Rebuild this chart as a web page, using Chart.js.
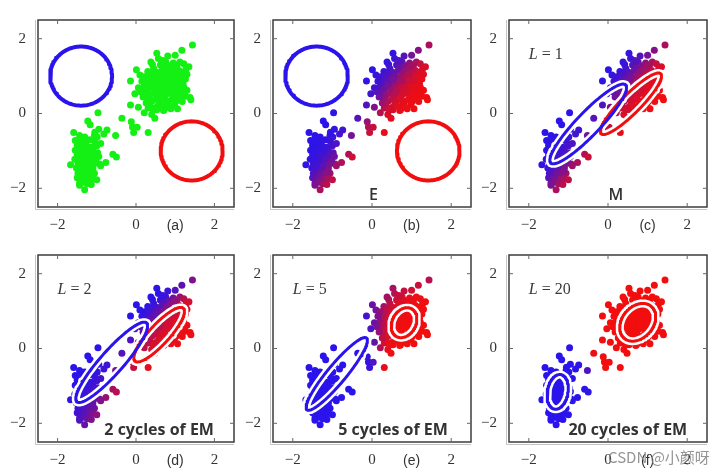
<!DOCTYPE html>
<html><head><meta charset="utf-8">
<script src="https://cdn.jsdelivr.net/npm/chart.js@4.4.0/dist/chart.umd.min.js"></script>
<style>
html,body{margin:0;padding:0;background:#fff;width:725px;height:475px;overflow:hidden;position:relative;}
canvas{position:absolute;}
</style></head><body>
<script>
// ---------- data ----------
const longX = [1.44,1.17,1.00,0.81,0.53,0.57,0.42,0.76,0.01,0.10,
-0.14,0.20,-0.03,-0.14,0.06,0.21,0.40,0.48,0.31,0.53,
0.72,0.89,1.06,1.18,1.38,1.40,1.35,0.62,0.85,0.95,
1.05,1.12,1.22,1.28,0.70,0.45,0.30,0.52,0.66,0.80,
0.90,1.00,1.10,1.20,0.38,0.75,0.22,0.35,0.48,0.58,
0.68,0.78,0.88,0.98,1.08,1.18,1.26,0.62,0.85,0.92,
0.28,0.40,0.50,0.60,0.70,0.80,0.90,1.00,1.10,1.20,
0.55,0.75,0.95,1.05,0.45,0.20,0.32,0.42,0.52,0.62,
0.72,0.82,0.92,1.02,1.12,1.22,1.30,0.67,0.87,0.48,
0.26,0.36,0.46,0.56,0.66,0.76,0.86,0.96,1.06,1.16,
1.26,0.71,0.91,1.01,0.30,0.42,0.52,0.62,0.72,0.82,
0.92,1.02,1.12,0.58,0.78,0.98,0.36,0.50,0.64,0.84,
0.44,0.70,0.26,0.06,0.12,0.15,0.18,1.30,1.24,0.98,
0.38,0.68,0.60,0.80,0.74,0.94,0.54,1.14];
const longY = [1.83,1.69,1.56,1.54,1.61,1.47,1.31,1.38,1.17,1.03,
0.87,0.84,0.53,0.23,0.17,0.02,-0.03,-0.13,0.15,0.10,
0.10,0.13,0.13,0.32,0.43,0.37,1.25,1.30,1.28,1.35,
1.30,1.38,1.33,1.20,1.22,1.20,1.12,1.10,1.15,1.12,
1.18,1.10,1.15,1.10,1.05,1.05,0.98,0.92,0.98,1.00,
0.94,0.98,1.00,0.95,1.00,0.96,0.92,0.90,0.90,1.05,
0.82,0.80,0.86,0.78,0.84,0.80,0.84,0.78,0.84,0.80,
0.75,0.76,0.74,0.88,0.90,0.70,0.66,0.72,0.64,0.70,
0.66,0.70,0.64,0.70,0.66,0.70,0.62,0.60,0.60,0.60,
0.55,0.50,0.54,0.48,0.54,0.50,0.54,0.48,0.55,0.50,
0.46,0.45,0.58,0.44,0.38,0.34,0.40,0.34,0.38,0.32,
0.38,0.33,0.40,0.26,0.25,0.24,0.20,0.16,0.20,0.17,
0.10,0.08,0.28,0.69,0.58,0.86,0.44,1.05,0.58,1.25,
1.38,1.42,0.58,0.62,0.88,0.90,0.92,0.74];
const shortX = [-0.97,-1.23,-1.17,-0.95,-0.74,-1.59,-1.44,-1.31,-1.06,-0.99,
-0.52,-0.59,-0.50,-0.77,-1.67,-0.93,-1.55,-1.42,-1.30,-1.18,
-1.05,-1.50,-1.38,-1.26,-1.14,-1.00,-0.90,-1.55,-1.45,-1.34,
-1.22,-1.10,-0.98,-1.50,-1.40,-1.30,-1.20,-1.08,-0.95,-1.56,
-1.44,-1.34,-1.24,-1.14,-1.02,-1.48,-1.38,-1.28,-1.18,-1.06,
-0.90,-1.52,-1.42,-1.32,-1.22,-1.10,-1.48,-1.38,-1.28,-1.18,
-1.06,-1.50,-1.40,-1.30,-1.20,-1.10,-1.44,-1.34,-1.24,-1.14,
-1.31,-1.44,-1.00,-1.36,-1.26,-1.46,-1.20,-1.40,-1.12,-1.42,
-1.05,-0.82];
const shortY = [0.02,-0.20,-0.30,-0.42,-0.44,-0.51,-0.59,-0.63,-0.59,-0.63,
-0.59,-1.09,-1.16,-1.31,-1.37,-1.35,-0.72,-0.70,-0.74,-0.70,
-0.75,-0.85,-0.88,-0.86,-0.90,-0.86,-0.80,-0.98,-1.00,-0.97,
-1.02,-0.98,-1.05,-1.10,-1.12,-1.08,-1.14,-1.10,-1.15,-1.22,
-1.24,-1.20,-1.26,-1.22,-1.28,-1.34,-1.36,-1.32,-1.38,-1.34,
-1.40,-1.46,-1.50,-1.45,-1.50,-1.46,-1.60,-1.62,-1.58,-1.64,
-1.60,-1.72,-1.76,-1.70,-1.76,-1.74,-1.86,-1.84,-1.88,-1.90,
-2.04,-1.92,-1.77,-1.28,-1.42,-1.18,-0.96,-0.80,-1.55,-1.40,
-0.50,-0.55];
const bridgeX = [-0.36,-0.12,-0.09,0.03,-0.06,0.31];
const bridgeY = [-0.13,-0.22,-0.36,-0.37,-0.51,-0.51];

const tickValues = [-2, 0, 2];
const tickLabels = ['\u22122', '0', '2'];
const panelLetters = ['(a)','(b)','(c)','(d)','(e)','(f)'];
const cycleLabels = [null, null, '1', '2', '5', '20'];
const captions = [null, 'E', 'M', '2 cycles of EM', '5 cycles of EM', '20 cycles of EM'];
const captionX = [null, 0.04, 0.2, 0.59, 0.53, 0.5];

// Gaussian components per panel: [centre x, centre y, semi-axis a, semi-axis b, angle deg, weight]
const blueComps = [[-1.40,1.00,0.79,0.79,0,0.5],[-1.40,1.00,0.79,0.79,0,0.5],[-0.50,-0.28,1.41,0.30,48,0.5],
                   [-0.62,-0.37,1.38,0.30,50,0.5],[-0.89,-0.68,1.22,0.24,52,0.45],[-1.27,-1.16,0.47,0.26,80,0.36]];
const redComps  = [[1.42,-1.00,0.79,0.79,0,0.5],[1.42,-1.00,0.79,0.79,0,0.5],[0.58,0.26,1.10,0.25,47,0.5],
                   [0.59,0.37,0.94,0.26,49,0.5],[0.81,0.69,0.42,0.30,65,0.55],[0.75,0.70,0.55,0.40,55,0.64]];
// which components give the responsibilities used to colour each panel
const colourSource = [null, 0, 0, 2, 4, 5];

// ---------- layout ----------
const boxes = [[38,17,196,190],[273,17,198,190],[509,17,198,190],
               [38,252,196,190],[273,252,198,190],[509,252,198,190]];
const BLUE = [42,20,235], RED = [242,14,14];

const pts = [];
longX.forEach((x,i)=>pts.push({x, y:longY[i]}));
shortX.forEach((x,i)=>pts.push({x, y:shortY[i]}));
bridgeX.forEach((x,i)=>pts.push({x, y:bridgeY[i]}));

function ellipse(c){
  const [cx,cy,a,b,deg] = c, th = deg*Math.PI/180, out=[];
  for(let i=0;i<=140;i++){const t=2*Math.PI*i/140;
    out.push({x:cx+a*Math.cos(t)*Math.cos(th)-b*Math.sin(t)*Math.sin(th),
              y:cy+a*Math.cos(t)*Math.sin(th)+b*Math.sin(t)*Math.cos(th)});}
  return out;
}
function logDens(p,c){
  const [cx,cy,a,b,deg,w]=c, th=deg*Math.PI/180, dx=p.x-cx, dy=p.y-cy;
  const u=dx*Math.cos(th)+dy*Math.sin(th), v=-dx*Math.sin(th)+dy*Math.cos(th);
  return -0.5*((u/a)**2+(v/b)**2)-Math.log(a*b)+Math.log(w);
}
function mix(r){const c=BLUE.map((b,k)=>Math.round(b*(1-r)+RED[k]*r));return `rgb(${c[0]},${c[1]},${c[2]})`;}

function framePlugin(idx){
  return {id:'frame'+idx, afterDraw(chart){
    const ctx=chart.ctx, a=chart.chartArea, xs=chart.scales.x, ys=chart.scales.y;
    ctx.save();
    ctx.strokeStyle='#c4c4c4'; ctx.lineWidth=1;
    ctx.beginPath(); ctx.moveTo(a.left-2.5,a.top); ctx.lineTo(a.left-2.5,a.bottom+2.5); ctx.lineTo(a.right,a.bottom+2.5); ctx.stroke();
    ctx.strokeStyle='#3c3c3c'; ctx.lineWidth=1.5;
    ctx.strokeRect(a.left,a.top,a.right-a.left,a.bottom-a.top);
    ctx.strokeStyle='#666'; ctx.lineWidth=1;
    tickValues.forEach(v=>{
      const x=xs.getPixelForValue(v), y=ys.getPixelForValue(v);
      ctx.beginPath();
      ctx.moveTo(x,a.top); ctx.lineTo(x,a.top+4); ctx.moveTo(x,a.bottom); ctx.lineTo(x,a.bottom-4);
      ctx.moveTo(a.left,y); ctx.lineTo(a.left+4,y); ctx.moveTo(a.right,y); ctx.lineTo(a.right-4,y);
      ctx.stroke();
    });
    ctx.fillStyle='#333'; ctx.textBaseline='middle'; ctx.textAlign='center';
    ctx.font='14px "Liberation Sans"';
    ctx.fillText(panelLetters[idx], xs.getPixelForValue(1.0), a.bottom+19.5);
    if(cycleLabels[idx]){
      ctx.textAlign='left';
      let x=xs.getPixelForValue(-2.0); const y=ys.getPixelForValue(1.56);
      ctx.fillStyle='#3a3a3a';
      ctx.font='italic 16px "Liberation Serif"'; ctx.fillText('L',x,y); x+=ctx.measureText('L').width;
      ctx.font='16px "Liberation Serif"'; ctx.fillText(' = '+cycleLabels[idx],x,y);
    }
    if(captions[idx]){
      ctx.textAlign='center'; ctx.fillStyle='#333';
      ctx.font=(idx<3?'600 16px':'bold 16px')+' "Open Sans"';
      ctx.fillText(captions[idx], xs.getPixelForValue(captionX[idx]), ys.getPixelForValue(-2.2));
    }
    if(idx===5){
      ctx.textAlign='left'; ctx.fillStyle='rgba(130,130,130,0.85)';
      ctx.font='15px "Noto Sans CJK SC"';
      ctx.fillText('CSDN @小颜呀', a.left+99, a.bottom+15);
    }
    ctx.restore();
  }};
}

boxes.forEach((b,idx)=>{
  const [L,T,W,H]=b;
  const cv=document.createElement('canvas');
  const cw=W+38+12, ch=H+10+30;
  cv.width=cw; cv.height=ch; cv.style.left=(L-38)+'px'; cv.style.top=(T-10)+'px';
  cv.style.width=cw+'px'; cv.style.height=ch+'px';
  document.body.appendChild(cv);
  let colours;
  if(idx===0){ colours = pts.map(()=> 'rgb(20,240,20)'); }
  else {
    const s=colourSource[idx];
    colours = pts.map(p=>{const lb=logDens(p,blueComps[s]), lr=logDens(p,redComps[s]);
      return mix(1/(1+Math.exp(lb-lr)));});
  }
  const halo = idx>=2;
  const lw = halo?3:4;
  const ds=[
    {data:ellipse(blueComps[idx]), showLine:true, borderColor:mix(0), borderWidth:lw, pointRadius:0, fill:false},
    {data:ellipse(redComps[idx]), showLine:true, borderColor:mix(1), borderWidth:lw, pointRadius:0, fill:false},
  ];
  if(halo){
    ds.push({data:ellipse(blueComps[idx]), showLine:true, borderColor:'#fff', borderWidth:8, pointRadius:0, fill:false});
    ds.push({data:ellipse(redComps[idx]), showLine:true, borderColor:'#fff', borderWidth:8, pointRadius:0, fill:false});
  }
  ds.push({data:pts, showLine:false, backgroundColor:colours, borderWidth:0, pointRadius:3.5, pointHoverRadius:3.5});
  const tickCfg=(pad)=>({font:{family:'Liberation Serif',size:15}, color:'#333', padding:pad,
      autoSkip:false, maxRotation:0, callback:(v)=>{const i=tickValues.indexOf(v);return i<0?'':tickLabels[i];}});
  new Chart(cv.getContext('2d'),{
    type:'scatter', data:{datasets:ds},
    options:{responsive:false, animation:false, devicePixelRatio:1,
      layout:{padding:{left:0,top:10,right:12,bottom:0}},
      plugins:{legend:{display:false}, tooltip:{enabled:false}},
      elements:{line:{borderCapStyle:'round',borderJoinStyle:'round',tension:0}},
      scales:{
        x:{type:'linear',min:-2.5,max:2.5,grid:{display:false},border:{display:false},
           afterBuildTicks:s=>{s.ticks=tickValues.map(v=>({value:v}));},
           afterFit:s=>{s.height=30;}, ticks:tickCfg(1)},
        y:{type:'linear',min:-2.5,max:2.5,grid:{display:false},border:{display:false},
           afterBuildTicks:s=>{s.ticks=tickValues.map(v=>({value:v}));},
           afterFit:s=>{s.width=38;}, ticks:tickCfg(4)}
      }},
    plugins:[framePlugin(idx)]
  });
});
</script>
</body></html>
